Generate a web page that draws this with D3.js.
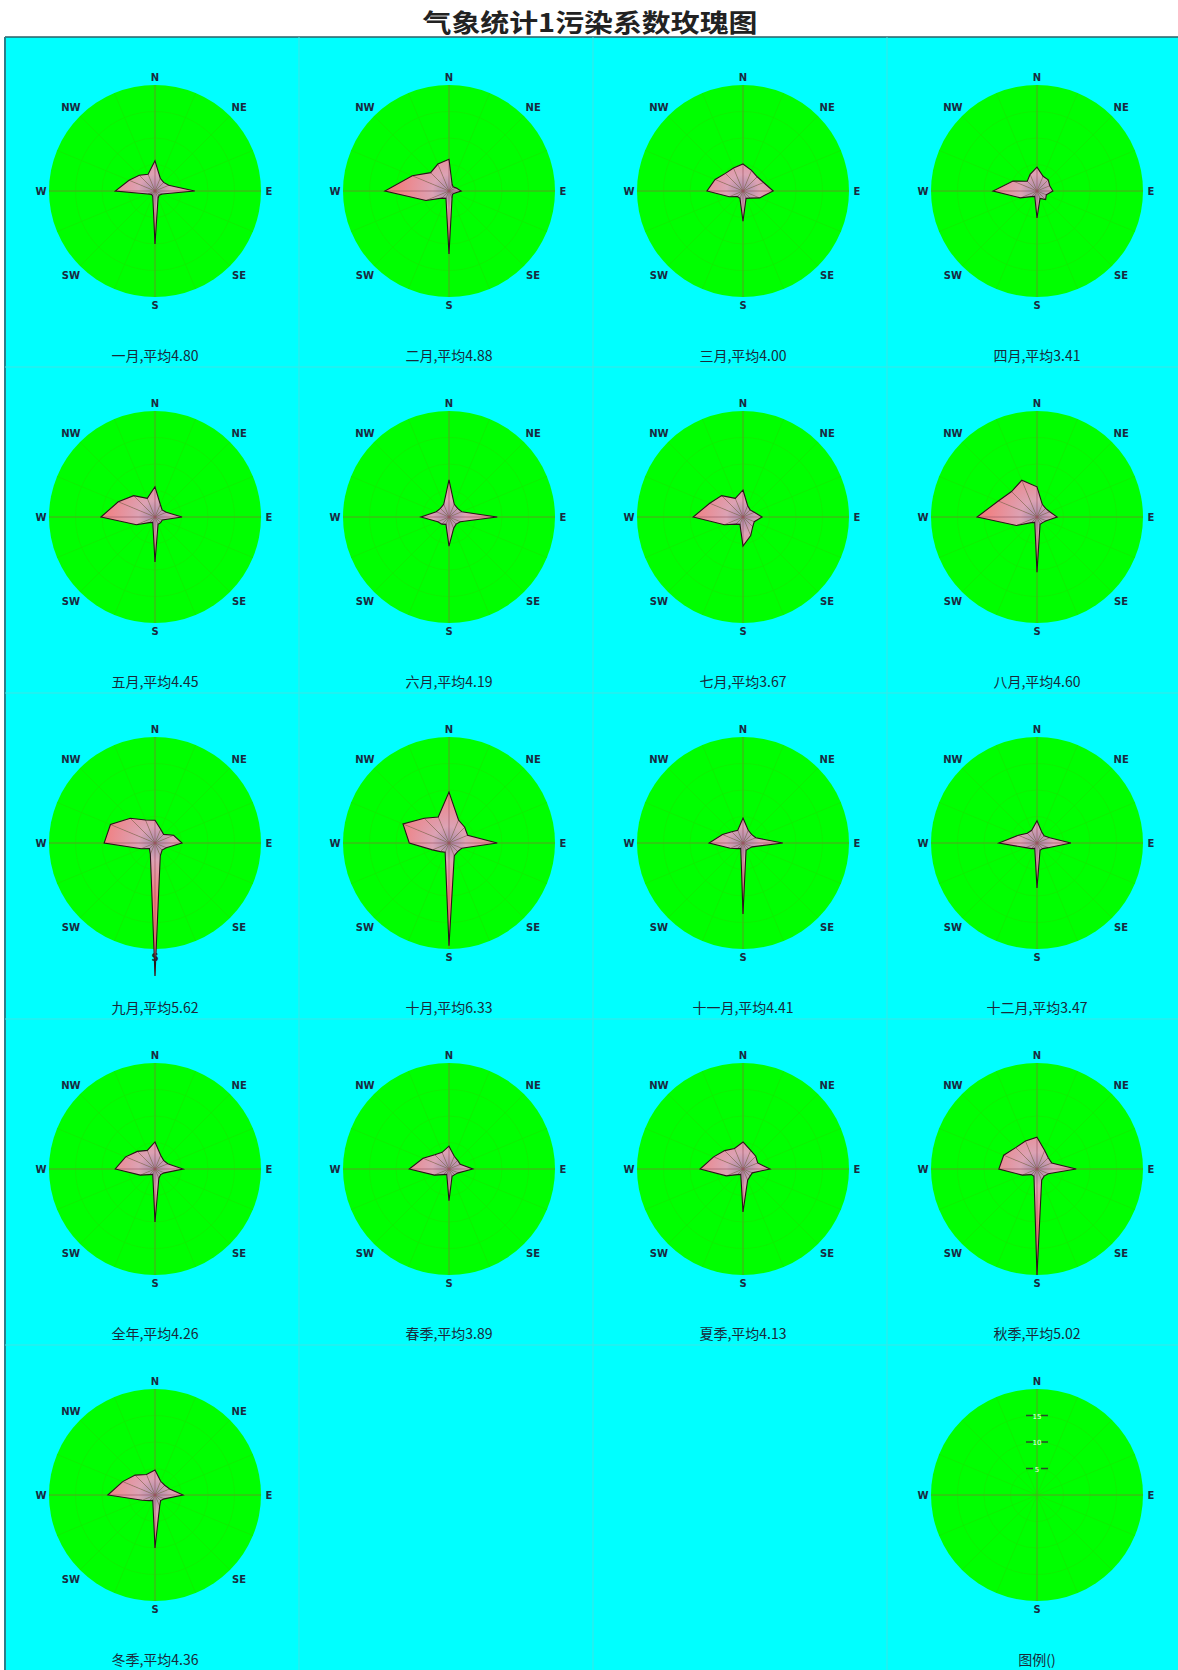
<!DOCTYPE html>
<html>
<head>
<meta charset="utf-8">
<script src="https://cdn.jsdelivr.net/npm/d3@7"></script>
<style>
  html, body { margin: 0; padding: 0; background: #ffffff; }
  svg { display: block; }
</style>
</head>
<body>
<svg id="chart" width="1178" height="1670"></svg>
<script>
// 16 wind directions, clockwise from north
const directions = ["N","NNE","NE","ENE","E","ESE","SE","SSE","S","SSW","SW","WSW","W","WNW","NW","NNW"];
const compassLabels = ["N","NE","E","SE","S","SW","W","NW"];

// panel names and their average pollution coefficient
const panelNames = ["一月","二月","三月","四月","五月","六月","七月","八月","九月","十月","十一月","十二月","全年","春季","夏季","秋季","冬季"];
const panelAverages = ["4.80","4.88","4.00","3.41","4.45","4.19","3.67","4.60","5.62","6.33","4.41","3.47","4.26","3.89","4.13","5.02","4.36"];

// pollution coefficient per direction (N .. NNW)
const jan    = [5.7,2.6,2.3,2.8,7.5,1.5,1.1,1.5,10.0,1.1,0.9,1.5,7.5,5.3,4.2,3.4];
const feb    = [6.0,1.5,1.1,1.5,2.3,1.1,0.9,1.5,11.9,1.5,1.9,4.7,12.1,7.5,4.9,5.5];
const mar    = [5.1,4.2,3.8,4.2,5.7,3.4,1.9,1.5,5.7,1.5,1.5,2.8,6.8,5.7,4.7,4.7];
const apr    = [4.5,3.0,3.0,2.6,3.0,1.9,2.3,1.5,5.1,1.1,1.5,3.4,8.3,4.9,2.6,3.4];
const may    = [5.7,2.6,1.9,2.3,5.1,1.5,1.5,1.5,8.5,1.1,1.5,3.8,10.2,7.5,5.7,3.8];
const jun    = [7.0,2.6,2.3,2.6,9.1,2.3,1.9,2.3,5.5,1.5,1.9,2.3,5.3,2.6,2.3,2.6];
const jul    = [5.1,2.3,1.9,2.3,3.6,2.3,2.6,3.8,5.5,1.5,1.9,3.8,9.4,6.8,5.7,3.8];
const aug    = [5.7,2.6,2.3,2.6,3.8,1.9,1.5,1.5,10.4,1.1,1.5,4.2,11.3,7.9,6.8,7.5];
const sep    = [4.3,2.8,2.3,3.8,5.1,2.3,1.9,2.6,25.1,2.3,1.5,2.8,9.6,9.1,6.6,4.7];
const oct    = [9.6,4.7,4.2,3.8,9.1,2.6,2.3,2.6,19.4,1.9,2.3,3.4,7.5,9.4,6.6,5.3];
const nov    = [4.7,2.6,2.3,2.6,7.5,1.9,1.5,1.5,13.4,1.1,1.5,2.6,6.4,4.2,3.0,2.6];
const dec    = [4.2,2.3,1.9,2.6,6.4,2.3,1.5,1.5,8.5,1.1,1.5,2.3,7.2,3.8,2.6,2.6];
const year   = [5.1,2.8,2.3,2.6,5.3,1.9,1.5,1.9,10.0,1.1,1.5,3.0,7.5,6.0,4.7,3.8];
const spring = [4.3,2.6,2.3,2.3,4.5,1.9,1.5,1.5,6.0,1.1,1.5,3.0,7.5,5.3,3.8,3.4];
const summer = [5.1,3.8,3.4,3.0,5.1,1.9,1.9,2.3,8.1,1.1,1.5,3.4,8.1,6.0,4.9,4.2];
const autumn = [6.0,3.8,3.0,3.0,7.4,2.3,1.9,2.3,20.0,1.5,1.5,3.0,7.2,6.8,5.7,5.7];
const winter = [4.7,2.8,2.6,3.0,5.3,1.9,1.5,2.3,10.0,1.1,1.5,2.6,8.9,6.6,5.3,4.2];
const panelSeries = [jan,feb,mar,apr,may,jun,jul,aug,sep,oct,nov,dec,year,spring,summer,autumn,winter];

// legend scale ticks
const legendTicks = [5, 10, 15];
const radiusMax = 20;

const svg = d3.select("#chart");
const W = 1178, H = 1670;
const panelTop = 37, panelLeft = 5;
const cellW = 294, cellH = 326;
const R = 106;

const r = d3.scaleLinear().domain([0, radiusMax]).range([0, R]);
const ang = d3.scaleLinear().domain([0, directions.length]).range([0, 2 * Math.PI]);

// title
svg.append("text")
  .attr("x", 590).attr("y", 32)
  .attr("text-anchor", "middle")
  .attr("font-family", "'Noto Sans CJK SC', sans-serif")
  .attr("font-weight", "bold")
  .attr("font-size", 25)
  .attr("textLength", 335)
  .attr("lengthAdjust", "spacingAndGlyphs")
  .attr("fill", "#222")
  .text("气象统计1污染系数玫瑰图");

// cyan panel
svg.append("rect")
  .attr("x", panelLeft).attr("y", panelTop)
  .attr("width", W - panelLeft).attr("height", H - panelTop)
  .attr("fill", "#00ffff");
svg.append("line").attr("x1", panelLeft).attr("x2", W).attr("y1", panelTop).attr("y2", panelTop)
  .attr("stroke", "#2b5f66").attr("stroke-width", 1.5);
svg.append("line").attr("x1", panelLeft).attr("x2", panelLeft).attr("y1", panelTop).attr("y2", H)
  .attr("stroke", "#2b7f8a").attr("stroke-width", 2);

// faint cell separators
const sep_ = svg.append("g").attr("stroke", "#3fe4e4").attr("stroke-width", 1);
for (let c = 1; c < 4; c++) {
  sep_.append("line").attr("x1", panelLeft + c * cellW).attr("x2", panelLeft + c * cellW)
    .attr("y1", panelTop).attr("y2", H);
}
for (let rr = 1; rr < 5; rr++) {
  sep_.append("line").attr("x1", panelLeft).attr("x2", W)
    .attr("y1", panelTop + rr * cellH + 4).attr("y2", panelTop + rr * cellH + 4);
}

const defs = svg.append("defs");
const grad = defs.append("radialGradient").attr("id", "petal")
  .attr("gradientUnits", "userSpaceOnUse").attr("cx", 0).attr("cy", 0).attr("r", 55);
grad.append("stop").attr("offset", 0).attr("stop-color", "#a08aa8");
grad.append("stop").attr("offset", 0.3).attr("stop-color", "#dca2b4");
grad.append("stop").attr("offset", 1).attr("stop-color", "#f47c7c");

function cellCenter(i) {
  const col = i % 4, row = Math.floor(i / 4);
  return [panelLeft + col * cellW + 150, panelTop + row * cellH + 154];
}

function drawDisk(g, labels) {
  g.append("circle").attr("r", R).attr("fill", "#00ff00");
  // faint grid rings and spokes
  legendTicks.forEach(t => g.append("circle").attr("r", r(t)).attr("fill", "none")
    .attr("stroke", "#10ee00").attr("stroke-width", 0.8));
  directions.forEach((d, i) => {
    const a = ang(i);
    g.append("line").attr("x1", 0).attr("y1", 0)
      .attr("x2", R * Math.sin(a)).attr("y2", -R * Math.cos(a))
      .attr("stroke", "#10ec00").attr("stroke-width", 0.8);
  });
  // main axes
  g.append("line").attr("x1", 0).attr("x2", 0).attr("y1", -R).attr("y2", R)
    .attr("stroke", "#50a820").attr("stroke-width", 1);
  g.append("line").attr("x1", -R).attr("x2", R).attr("y1", 0).attr("y2", 0)
    .attr("stroke", "#50a820").attr("stroke-width", 1);
  // compass labels
  labels.forEach(lbl => {
    const idx = directions.indexOf(lbl);
    const a = ang(idx);
    const diag = lbl.length === 2;
    const rad = diag ? 119 : 114;
    g.append("text")
      .attr("x", rad * Math.sin(a)).attr("y", -rad * Math.cos(a) + 4)
      .attr("text-anchor", "middle")
      .attr("font-family", "'DejaVu Sans', sans-serif")
      .attr("font-weight", "bold").attr("font-size", 10)
      .attr("fill", "#1a2a40")
      .text(lbl);
  });
}

function drawRose(g, values) {
  const pts = values.map((v, i) => [r(v) * Math.sin(ang(i)), -r(v) * Math.cos(ang(i))]);
  const n = pts.length;
  for (let i = 0; i < n; i++) {
    const p = pts[i], q = pts[(i + 1) % n];
    g.append("path")
      .attr("d", `M0,0L${p[0]},${p[1]}L${q[0]},${q[1]}Z`)
      .attr("fill", "url(#petal)")
      .attr("stroke", "none");
  }
  pts.forEach(p => g.append("line").attr("x1", 0).attr("y1", 0).attr("x2", p[0]).attr("y2", p[1])
    .attr("stroke", "#9a5060").attr("stroke-width", 0.6));
  const line = d3.lineRadial().angle((d, i) => ang(i)).radius(d => r(d)).curve(d3.curveLinearClosed);
  g.append("path").attr("d", line(values))
    .attr("fill", "none").attr("stroke", "#2a1418").attr("stroke-width", 1.1);
}

panelSeries.forEach((vals, i) => {
  const [cx, cy] = cellCenter(i);
  const g = svg.append("g").attr("transform", `translate(${cx},${cy})`);
  drawDisk(g, compassLabels);
  drawRose(g, vals);
  g.append("text")
    .attr("x", 0).attr("y", 170)
    .attr("text-anchor", "middle")
    .attr("font-family", "'Noto Sans CJK SC', sans-serif")
    .attr("font-size", 14)
    .attr("fill", "#1a2a3a")
    .text(`${panelNames[i]},平均${panelAverages[i]}`);
});

// legend disk in the last cell
{
  const [cx, cy] = cellCenter(19);
  const g = svg.append("g").attr("transform", `translate(${cx},${cy})`);
  drawDisk(g, ["N","E","S","W"]);
  legendTicks.forEach(t => {
    g.append("line").attr("x1", -11).attr("x2", -4).attr("y1", -r(t)).attr("y2", -r(t))
      .attr("stroke", "#2a4a2a").attr("stroke-width", 1.5);
    g.append("line").attr("x1", 4).attr("x2", 11).attr("y1", -r(t)).attr("y2", -r(t))
      .attr("stroke", "#2a4a2a").attr("stroke-width", 1.5);
    g.append("text").attr("x", 0).attr("y", -r(t) + 3)
      .attr("text-anchor", "middle")
      .attr("font-family", "'DejaVu Sans', sans-serif")
      .attr("font-size", 7).attr("fill", "#f0fff0")
      .text(t);
  });
  g.append("text")
    .attr("x", 0).attr("y", 170)
    .attr("text-anchor", "middle")
    .attr("font-family", "'Noto Sans CJK SC', sans-serif")
    .attr("font-size", 14)
    .attr("fill", "#1a2a3a")
    .text("图例()");
}
</script>
</body>
</html>
